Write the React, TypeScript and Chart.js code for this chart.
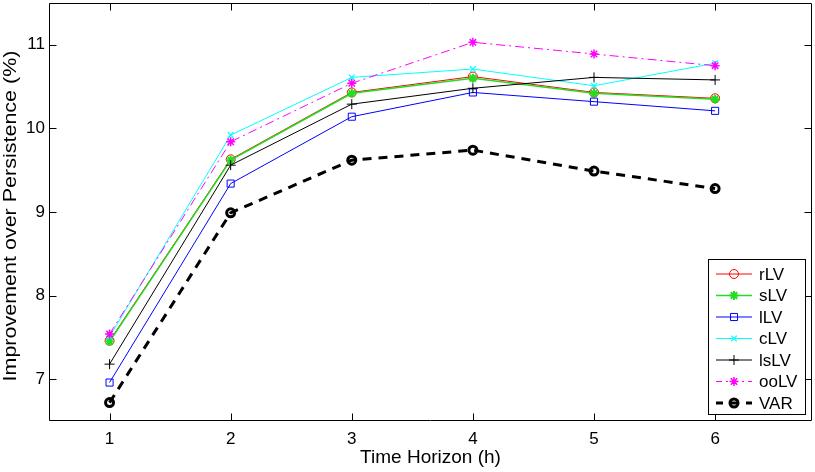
import React, { useEffect, useRef } from 'react';
import { Chart, registerables } from 'chart.js';
import { drawPoint } from 'chart.js/helpers';

Chart.register(...registerables);

const horizons = [1, 2, 3, 4, 5, 6];
const xTicks = [1, 2, 3, 4, 5, 6];
const yTicks = [7, 8, 9, 10, 11];
const rLV = [7.46, 9.63, 10.43, 10.62, 10.43, 10.36];
const sLV = [7.45, 9.62, 10.42, 10.60, 10.42, 10.35];
const lLV = [6.96, 9.34, 10.14, 10.43, 10.32, 10.21];
const cLV = [7.51, 9.92, 10.61, 10.71, 10.51, 10.78];
const lsLV = [7.18, 9.56, 10.29, 10.48, 10.61, 10.58];
const ooLV = [7.54, 9.84, 10.54, 11.03, 10.89, 10.75];
const VAR = [6.72, 8.99, 9.62, 9.74, 9.49, 9.28];

const FONT = '"Liberation Sans", Arial, Helvetica, sans-serif';

type S = {
  label: string; data: number[]; color: string; width: number; dash: number[];
  style: string; radius: number; bw: number; fill: string;
};

const seriesDefs: S[] = [
  { label: 'rLV', data: rLV, color: '#ff0000', width: 1, dash: [], style: 'circle', radius: 4.5, bw: 1, fill: 'rgba(0,0,0,0)' },
  { label: 'sLV', data: sLV, color: '#22dd22', width: 1.5, dash: [], style: 'star', radius: 4.5, bw: 2, fill: 'rgba(0,0,0,0)' },
  { label: 'lLV', data: lLV, color: '#0000ff', width: 1, dash: [], style: 'rect', radius: 5, bw: 1, fill: 'rgba(0,0,0,0)' },
  { label: 'cLV', data: cLV, color: '#00ffff', width: 1, dash: [], style: 'crossRot', radius: 4, bw: 1.2, fill: 'rgba(0,0,0,0)' },
  { label: 'lsLV', data: lsLV, color: '#000000', width: 1, dash: [], style: 'cross', radius: 5, bw: 1, fill: 'rgba(0,0,0,0)' },
  { label: 'ooLV', data: ooLV, color: '#ff00ff', width: 1, dash: [9, 4, 2, 4], style: 'star', radius: 4.5, bw: 1.5, fill: 'rgba(0,0,0,0)' },
  { label: 'VAR', data: VAR, color: '#000000', width: 3, dash: [9, 7], style: 'circle', radius: 4, bw: 3, fill: 'rgba(0,0,0,0)' },
];

const framePlugin = {
  id: 'matlabFrame',
  afterDraw(chart: any) {
    const { ctx, chartArea: ca, scales } = chart;
    const xs = scales.x;
    const ys = scales.y;
    ctx.save();
    ctx.strokeStyle = '#000';
    ctx.lineWidth = 1;
    ctx.setLineDash([]);
    const L = Math.round(ca.left) + 0.5;
    const R = Math.round(ca.right) - 0.5;
    const T = Math.round(ca.top) + 0.5;
    const B = Math.round(ca.bottom) - 0.5;
    ctx.beginPath();
    ctx.rect(L, T, R - L, B - T);
    ctx.stroke();
    const tl = 7;
    ctx.beginPath();
    for (const v of yTicks) {
      const y = Math.round(ys.getPixelForValue(v)) + 0.5;
      ctx.moveTo(L, y); ctx.lineTo(L + tl, y);
      ctx.moveTo(R, y); ctx.lineTo(R - tl, y);
    }
    for (const v of xTicks) {
      const x = Math.round(xs.getPixelForValue(v)) + 0.5;
      ctx.moveTo(x, B); ctx.lineTo(x, B - tl);
      ctx.moveTo(x, T); ctx.lineTo(x, T + tl);
    }
    ctx.stroke();

    // axis titles
    ctx.fillStyle = '#000';
    ctx.font = `19px ${FONT}`;
    ctx.textAlign = 'center';
    ctx.textBaseline = 'alphabetic';
    ctx.fillText('Time Horizon (h)', (ca.left + ca.right) / 2, 463);
    ctx.save();
    ctx.translate(16, 216);
    ctx.rotate(-Math.PI / 2);
    ctx.scale(1, 0.82);
    ctx.font = `21.5px ${FONT}`;
    ctx.fillText('Improvement over Persistence (%)', 0, 0);
    ctx.restore();

    // legend
    const bx = 708.5, by = 259.5, bw = 97, bh = 155;
    ctx.fillStyle = '#fff';
    ctx.fillRect(bx, by, bw, bh);
    ctx.strokeStyle = '#000';
    ctx.lineWidth = 1;
    ctx.strokeRect(bx, by, bw, bh);
    ctx.font = `17px ${FONT}`;
    ctx.textAlign = 'left';
    ctx.textBaseline = 'middle';
    seriesDefs.forEach((s, i) => {
      const y = 274 + i * 21.5;
      ctx.save();
      ctx.strokeStyle = s.color;
      ctx.lineWidth = s.width;
      ctx.setLineDash(s.dash.length ? (s.label === 'VAR' ? [7, 8] : [6, 4, 2, 4]) : []);
      ctx.beginPath();
      ctx.moveTo(716, y);
      ctx.lineTo(752, y);
      ctx.stroke();
      ctx.setLineDash([]);
      ctx.lineWidth = s.bw;
      ctx.fillStyle = s.fill;
      drawPoint(ctx, { pointStyle: s.style as any, radius: s.radius, rotation: 0, borderWidth: s.bw } as any, 734, y);
      ctx.restore();
      ctx.fillStyle = '#000';
      ctx.fillText(s.label, 759, y + 1);
    });
    ctx.restore();
  },
};

export default function App() {
  const ref = useRef<HTMLCanvasElement | null>(null);
  useEffect(() => {
    if (!ref.current) return;
    const n = seriesDefs.length;
    const chart = new Chart(ref.current, {
      type: 'line',
      data: {
        datasets: seriesDefs.map((s, i) => ({
          label: s.label,
          data: s.data.map((v, j) => ({ x: horizons[j], y: v })),
          borderColor: s.color,
          borderWidth: s.width,
          borderDash: s.dash,
          backgroundColor: s.fill,
          pointStyle: s.style as any,
          pointRadius: s.radius,
          pointBorderWidth: s.bw,
          pointBorderColor: s.color,
          pointBackgroundColor: s.fill,
          tension: 0,
          fill: false,
          order: n - i,
        })),
      },
      options: {
        responsive: false,
        animation: false,
        devicePixelRatio: 1,
        layout: { autoPadding: false, padding: { top: 3, right: 3, left: 0, bottom: 0 } },
        plugins: { legend: { display: false }, tooltip: { enabled: false } },
        scales: {
          x: {
            type: 'linear',
            min: 0.5,
            max: 6.8,
            grid: { display: false, drawTicks: false },
            border: { display: false },
            afterBuildTicks: (sc: any) => { sc.ticks = xTicks.map((v) => ({ value: v })); },
            afterFit: (sc: any) => { sc.height = 51; sc.paddingLeft = 0; sc.paddingRight = 0; },
            ticks: { color: '#000', font: { family: FONT, size: 17 }, padding: 8, maxRotation: 0 },
          },
          y: {
            type: 'linear',
            min: 6.5,
            max: 11.5,
            grid: { display: false, drawTicks: false },
            border: { display: false },
            afterBuildTicks: (sc: any) => { sc.ticks = yTicks.map((v) => ({ value: v })); },
            afterFit: (sc: any) => { sc.width = 49; sc.paddingTop = 0; sc.paddingBottom = 0; },
            ticks: { color: '#000', font: { family: FONT, size: 17 }, padding: 4 },
          },
        },
      },
      plugins: [framePlugin],
    });
    return () => chart.destroy();
  }, []);
  return (
    <div style={{ position: 'absolute', left: 0, top: 0, width: 815, height: 472, background: '#fff' }}>
      <canvas ref={ref} width={815} height={472} style={{ display: 'block' }} />
    </div>
  );
}
